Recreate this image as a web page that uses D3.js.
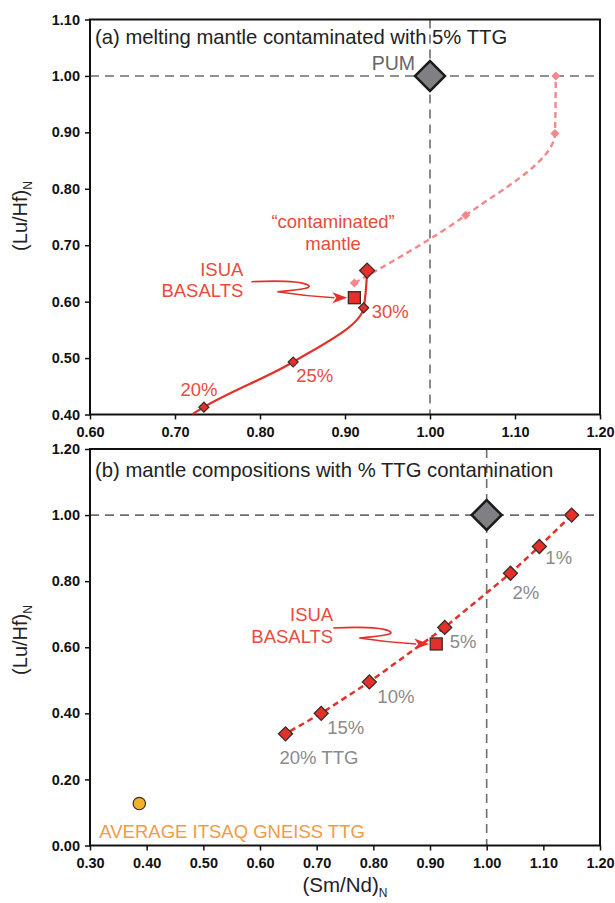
<!DOCTYPE html>
<html>
<head>
<meta charset="utf-8">
<script src="https://cdn.jsdelivr.net/npm/d3@7"></script>
<style>
  body { margin: 0; background: #fff; }
  svg { display: block; font-family: "Liberation Sans", Arial, Helvetica, sans-serif; }
  .tick text { font-weight: bold; font-size: 14.5px; fill: #111; }
</style>
</head>
<body>
<div id="chart"></div>
<script>
// ---- data ----
// panel (a): melting of a mantle contaminated with 5% TTG
const pum = [1.00, 1.00];
const meltCurveX = [0.720, 0.734, 0.839, 0.922, 0.926];
const meltCurveY = [0.400, 0.413, 0.493, 0.589, 0.655];
const meltPctX = [0.734, 0.839, 0.922];
const meltPctY = [0.413, 0.493, 0.589];
const meltPct = ['20%', '25%', '30%'];
const contamMantle = [0.926, 0.655];
const pinkX = [0.911, 1.042, 1.147, 1.148];
const pinkY = [0.633, 0.753, 0.898, 1.000];
const isuaA = [0.911, 0.607];

// panel (b): mantle compositions with % TTG contamination
const mixX = [1.150, 1.093, 1.042, 0.926, 0.793, 0.708, 0.645];
const mixY = [1.000, 0.905, 0.824, 0.660, 0.495, 0.400, 0.338];
const mixPct = ['', '1%', '2%', '5%', '10%', '15%', '20% TTG'];
const isuaB = [0.911, 0.610];
const ttgAvg = [0.387, 0.127];

// axes
const aXTicks = [0.6, 0.7, 0.8, 0.9, 1.0, 1.1, 1.2];
const aYTicks = [0.4, 0.5, 0.6, 0.7, 0.8, 0.9, 1.0, 1.1];
const bXTicks = [0.3, 0.4, 0.5, 0.6, 0.7, 0.8, 0.9, 1.0, 1.1, 1.2];
const bYTicks = [0.0, 0.2, 0.4, 0.6, 0.8, 1.0, 1.2];

const RED = '#e3312a', TXTRED = '#ea4a3e', PINK = '#f4878b', GREYTXT = '#8a8a8a';

const svg = d3.select('#chart').append('svg')
    .attr('width', 615).attr('height', 903);
svg.append('rect').attr('width', 615).attr('height', 903).attr('fill', '#fff');

function Panel({id, left, right, top, bottom, xlim, ylim, xticks, yticks, title, titleY}) {
    let X = d3.scaleLinear().domain(xlim).range([left, right]);
    let Y = d3.scaleLinear().domain(ylim).range([bottom, top]);
    let g = svg.append('g').attr('class', 'panel-' + id);
    g.append('defs').append('clipPath').attr('id', 'clip-' + id)
        .append('rect')
            .attr('x', left).attr('y', top)
            .attr('width', right - left).attr('height', bottom - top);
    // reference lines through PUM
    g.append('line')
        .attr('x1', left).attr('x2', right)
        .attr('y1', Y(1)).attr('y2', Y(1));
    g.append('line')
        .attr('x1', X(1)).attr('x2', X(1))
        .attr('y1', top).attr('y2', bottom);
    g.selectAll('line')
        .attr('stroke', '#6e6e6e')
        .attr('stroke-width', 1.6)
        .attr('stroke-dasharray', '9,6');
    g.append('text')
        .attr('x', left + 5).attr('y', titleY)
        .attr('font-size', 20.3).attr('fill', '#222')
        .text(title);
    g.append('g')
        .attr('transform', `translate(0,${bottom})`)
        .call(d3.axisBottom(X).tickValues(xticks).tickFormat(d3.format('.2f'))
            .tickSize(5).tickSizeOuter(0).tickPadding(7));
    g.append('g')
        .attr('transform', `translate(${left},0)`)
        .call(d3.axisLeft(Y).tickValues(yticks).tickFormat(d3.format('.2f'))
            .tickSize(5).tickSizeOuter(0).tickPadding(5));
    g.selectAll('.tick line').attr('stroke', '#111').attr('stroke-width', 1.5);
    g.selectAll('.domain').remove();
    g.append('rect')
        .attr('x', left).attr('y', top)
        .attr('width', right - left).attr('height', bottom - top)
        .attr('fill', 'none').attr('stroke', '#111').attr('stroke-width', 2);
    let marks = g.append('g').attr('class', 'marks');
    return {g, marks, X, Y, clip: `url(#clip-${id})`};
}

function diamond(sel, x, y, h, fill, stroke, sw) {
    sel.append('path')
        .attr('d', d3.symbol(d3.symbolSquare, 2 * h * h)())
        .attr('transform', `translate(${x},${y}) rotate(45)`)
        .attr('fill', fill)
        .attr('stroke', stroke || 'none')
        .attr('stroke-width', sw || 0);
}

function square(sel, x, y, s) {
    sel.append('rect')
        .attr('x', x - s / 2).attr('y', y - s / 2)
        .attr('width', s).attr('height', s)
        .attr('fill', RED).attr('stroke', '#3a2b2b').attr('stroke-width', 1.3);
}

// the wavy "ISUA BASALTS" pointer, tip ends at the left of the square (px, py)
function pointer(sel, px, py) {
    let p = d3.path();
    p.moveTo(px - 103, py - 16);
    p.bezierCurveTo(px - 80, py - 17, px - 56, py - 17, px - 47, py - 13);
    p.bezierCurveTo(px - 41, py - 10, px - 50, py - 8, px - 77, py - 6);
    p.bezierCurveTo(px - 58, py - 3, px - 38, py - 1, px - 20, py);
    sel.append('path').attr('d', p.toString())
        .attr('fill', 'none').attr('stroke', RED).attr('stroke-width', 1.6);
    sel.append('path')
        .attr('d', `M${px - 7},${py} L${px - 22},${py - 5.5} L${px - 18},${py} L${px - 22},${py + 5.5}Z`)
        .attr('fill', RED);
}

function label(sel, x, y, txt, color, anchor) {
    return sel.append('text')
        .attr('x', x).attr('y', y)
        .attr('font-size', 18.5)
        .attr('fill', color)
        .attr('text-anchor', anchor || 'start')
        .text(txt);
}

// ---------------- panel (a) ----------------
const A = Panel({id: 'a', left: 90, right: 600, top: 19.5, bottom: 414.5,
    xlim: [0.6, 1.2], ylim: [0.4, 1.1], xticks: aXTicks, yticks: aYTicks,
    title: '(a) melting mantle contaminated with 5% TTG', titleY: 44});

const line = (X, Y) => d3.line().x(d => X(d[0])).y(d => Y(d[1]));

A.marks.append('path')
    .datum(d3.zip(pinkX, pinkY))
    .attr('d', line(A.X, A.Y).curve(d3.curveMonotoneY))
    .attr('fill', 'none').attr('stroke', PINK)
    .attr('stroke-width', 2.4).attr('stroke-dasharray', '6,4');
d3.zip(pinkX, pinkY).forEach(d => diamond(A.marks, A.X(d[0]), A.Y(d[1]), 4.5, PINK));

A.marks.append('path')
    .datum(d3.zip(meltCurveX, meltCurveY))
    .attr('clip-path', A.clip)
    .attr('d', line(A.X, A.Y).curve(d3.curveMonotoneY))
    .attr('fill', 'none').attr('stroke', RED).attr('stroke-width', 2.2);

diamond(A.marks, A.X(pum[0]), A.Y(pum[1]), 15, '#7f7f84', '#1b1b1b', 2.5);
label(A.marks, A.X(pum[0]) - 15, A.Y(pum[1]) - 6, 'PUM', '#666', 'end').attr('font-size', 19.5);

diamond(A.marks, A.X(contamMantle[0]), A.Y(contamMantle[1]), 7.5, RED, '#3a2b2b', 1.3);
label(A.marks, A.X(contamMantle[0]) - 34, A.Y(contamMantle[1]) - 43, '\u201ccontaminated\u201d', TXTRED, 'middle');
label(A.marks, A.X(contamMantle[0]) - 34, A.Y(contamMantle[1]) - 21, 'mantle', TXTRED, 'middle');

const aPctOffsets = [[-5, -11, 'middle'], [3, 20, 'start'], [8, 10, 'start']];
meltPct.forEach((t, i) => {
    let x = A.X(meltPctX[i]), y = A.Y(meltPctY[i]);
    diamond(A.marks, x, y, 5, RED, '#3a2b2b', 1.2);
    label(A.marks, x + aPctOffsets[i][0], y + aPctOffsets[i][1], t, TXTRED, aPctOffsets[i][2]);
});

square(A.marks, A.X(isuaA[0]), A.Y(isuaA[1]), 12);
pointer(A.marks, A.X(isuaA[0]), A.Y(isuaA[1]));
label(A.marks, A.X(isuaA[0]) - 111, A.Y(isuaA[1]) - 22, 'ISUA', TXTRED, 'end');
label(A.marks, A.X(isuaA[0]) - 111, A.Y(isuaA[1]) - 1, 'BASALTS', TXTRED, 'end');

// ---------------- panel (b) ----------------
const B = Panel({id: 'b', left: 90, right: 600, top: 449, bottom: 845.5,
    xlim: [0.3, 1.2], ylim: [0.0, 1.2], xticks: bXTicks, yticks: bYTicks,
    title: '(b) mantle compositions with % TTG contamination', titleY: 477});

diamond(B.marks, B.X(pum[0]), B.Y(pum[1]), 15, '#7f7f84', '#1b1b1b', 2.5);

B.marks.append('path')
    .datum(d3.zip(mixX, mixY))
    .attr('d', line(B.X, B.Y))
    .attr('fill', 'none').attr('stroke', RED)
    .attr('stroke-width', 2.5).attr('stroke-dasharray', '6,4');

square(B.marks, B.X(isuaB[0]), B.Y(isuaB[1]), 12);
pointer(B.marks, B.X(isuaB[0]), B.Y(isuaB[1]));
label(B.marks, B.X(isuaB[0]) - 103, B.Y(isuaB[1]) - 22.5, 'ISUA', TXTRED, 'end');
label(B.marks, B.X(isuaB[0]) - 103, B.Y(isuaB[1]) - 0.5, 'BASALTS', TXTRED, 'end');

const bPctOffsets = [[0, 0], [6, 18], [2, 26], [5, 21], [8, 21], [6, 21], [-6, 30]];
mixPct.forEach((t, i) => {
    let x = B.X(mixX[i]), y = B.Y(mixY[i]);
    diamond(B.marks, x, y, 7, RED, '#3a2b2b', 1.3);
    if (t) label(B.marks, x + bPctOffsets[i][0], y + bPctOffsets[i][1], t, GREYTXT);
});

B.marks.append('circle')
    .attr('cx', B.X(ttgAvg[0])).attr('cy', B.Y(ttgAvg[1])).attr('r', 6.2)
    .attr('fill', '#f4b02a').attr('stroke', '#3a3020').attr('stroke-width', 1.2);
label(B.marks, B.X(ttgAvg[0]) - 40, B.Y(ttgAvg[1]) + 34, 'AVERAGE ITSAQ GNEISS TTG', '#f39a45');

// ---------------- axis titles ----------------
function yTitle(cy) {
    let t = svg.append('text')
        .attr('transform', `translate(27,${cy}) rotate(-90)`)
        .attr('text-anchor', 'middle')
        .attr('font-size', 20).attr('fill', '#222');
    t.append('tspan').text('(Lu/Hf)');
    t.append('tspan').attr('font-size', 12).attr('dy', 5).text('N');
}
yTitle(216);
yTitle(640);

const xt = svg.append('text')
    .attr('x', 345).attr('y', 892)
    .attr('text-anchor', 'middle')
    .attr('font-size', 20.5).attr('fill', '#222');
xt.append('tspan').text('(Sm/Nd)');
xt.append('tspan').attr('font-size', 12).attr('dy', 5).text('N');
</script>
</body>
</html>
